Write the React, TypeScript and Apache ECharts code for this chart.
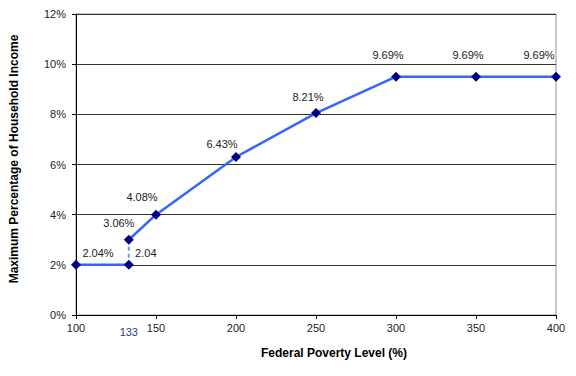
import React, { useEffect, useRef } from "react";
import * as echarts from "echarts";

// Federal poverty level (%) of each plotted point
const fplLevels = [100, 133, 133, 150, 200, 250, 300, 350, 400];
// Plotted maximum percentage of household income (%)
const plottedPct = [2, 2, 3, 4, 6.3, 8.05, 9.5, 9.5, 9.5];
// Data label texts shown beside each point
const pointLabels = ["2.04%", "2.04", "3.06%", "4.08%", "6.43%", "8.21%", "9.69%", "9.69%", "9.69%"];
// X axis label values and tick values
const xLabelValues = [100, 133, 150, 200, 250, 300, 350, 400];
const xTickValues = [100, 150, 200, 250, 300, 350, 400];

// label offsets (styling only)
const labelOffsets: [number, number][] = [
  [22, -12], [17, -12], [-10, -17], [-14, -18], [-14, -13], [-8, -16], [-8, -22], [-8, -22], [-17, -22],
];

const FONT = "Liberation Sans, Arial, sans-serif";

function pt(i: number) {
  return {
    value: [fplLevels[i], plottedPct[i]],
    label: {
      show: true,
      formatter: pointLabels[i],
      position: "inside" as const,
      offset: labelOffsets[i],
      color: "#222",
      fontSize: 11,
      fontFamily: FONT,
    },
  };
}

export default function App() {
  const ref = useRef<HTMLDivElement>(null);
  useEffect(() => {
    if (!ref.current) return;
    const chart = echarts.init(ref.current, undefined, { renderer: "svg" });
    const markerStyle = { color: "#000080" };
    chart.setOption({
      animation: false,
      backgroundColor: "#ffffff",
      grid: { left: 76, right: 20, top: 14, bottom: 61, show: true, borderColor: "#909090", borderWidth: 1 },
      xAxis: {
        type: "value",
        min: 100,
        max: 400,
        interval: 50,
        axisLine: { show: true, lineStyle: { color: "#000", width: 1 } },
        axisTick: { show: true, length: 4, lineStyle: { color: "#000" }, customValues: xTickValues },
        axisLabel: {
          customValues: xLabelValues,
          margin: 7,
          fontSize: 11,
          fontFamily: FONT,
          color: "#222",
          formatter: (v: number) => (v === 133 ? "{b|" + v + "}" : String(v)),
          rich: { b: { color: "#1F3F7F", fontSize: 11, fontFamily: FONT, padding: [4, 0, 0, 0] } },
        },
        splitLine: { show: false },
      },
      yAxis: {
        type: "value",
        min: 0,
        max: 12,
        interval: 2,
        axisLine: { show: true, lineStyle: { color: "#000", width: 1 } },
        axisTick: { show: true, length: 4, lineStyle: { color: "#000" } },
        axisLabel: { formatter: "{value}%", margin: 10, fontSize: 11, fontFamily: FONT, color: "#222" },
        splitLine: { show: true, lineStyle: { color: "#333", width: 1 } },
      },
      graphic: [
        {
          type: "text",
          x: 334,
          y: 353,
          style: {
            text: "Federal Poverty Level (%)",
            font: "bold 12px " + FONT,
            fill: "#000",
            textAlign: "center",
            textVerticalAlign: "middle",
          },
        },
        {
          type: "text",
          x: 14,
          y: 159,
          rotation: Math.PI / 2,
          style: {
            text: "Maximum Percentage of Household Income",
            font: "bold 12px " + FONT,
            fill: "#000",
            textAlign: "center",
            textVerticalAlign: "middle",
          },
        },
      ],
      series: [
        {
          type: "line",
          data: [pt(0), pt(1)],
          symbol: "diamond",
          symbolSize: 10,
          itemStyle: markerStyle,
          lineStyle: { color: "#3366FF", width: 2.5 },
          z: 3,
        },
        {
          type: "line",
          data: [[fplLevels[1], plottedPct[1]], [fplLevels[2], plottedPct[2]]],
          symbol: "none",
          lineStyle: { color: "#6F9BE8", width: 2, type: [4, 3] },
          z: 2,
        },
        {
          type: "line",
          data: [2, 3, 4, 5, 6, 7, 8].map(pt),
          symbol: "diamond",
          symbolSize: 10,
          itemStyle: markerStyle,
          lineStyle: { color: "#3366FF", width: 2.5 },
          z: 3,
        },
      ],
    });
    return () => chart.dispose();
  }, []);
  return <div ref={ref} style={{ position: "fixed", left: 0, top: 0, width: 576, height: 376 }} />;
}
